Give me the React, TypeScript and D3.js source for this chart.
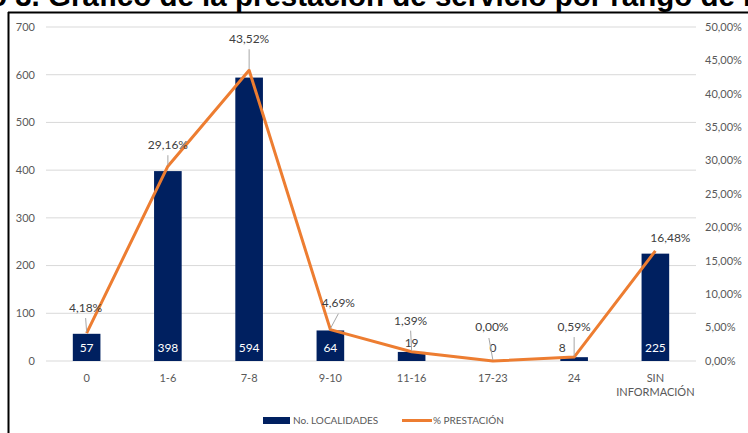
import { scaleBand, scaleLinear, line } from "d3";

const categories = ["0", "1-6", "7-8", "9-10", "11-16", "17-23", "24", "SIN INFORMACIÓN"];
const localidades = [57, 398, 594, 64, 19, 0, 8, 225];
const prestacion = [4.18, 29.16, 43.52, 4.69, 1.39, 0.0, 0.59, 16.48];
const leftTicks = [0, 100, 200, 300, 400, 500, 600, 700];
const rightTicks = [0, 5, 10, 15, 20, 25, 30, 35, 40, 45, 50];

// label placement tweaks (dx, dy from the point), like Excel's manual moves
const pctOffsets: [number, number][] = [
  [-1, -20], [0, -16], [0, -26], [8, -21], [-1, -26], [-1, -29], [0, -25], [15, -8],
];
const leaderFrom: ([number, number] | null)[] = [
  [-1, -15], [0, -11], [0, -21], [8, -16], [-1, -21], [-4, -23], [0, -20], null,
];

const fmtPct = (v: number) => v.toFixed(2).replace(".", ",") + "%";

const font = "Lato, 'Open Sans', sans-serif";

const App = () => {
  const width = 748;
  const height = 433;

  const x = scaleBand().domain(categories).range([46, 696]).padding(0);
  const yL = scaleLinear().domain([0, 700]).range([361, 27]);
  const yR = scaleLinear().domain([0, 50]).range([361, 27]);

  const barW = x.bandwidth() * 0.34;
  const cx = (c: string) => x(c)! + x.bandwidth() / 2;

  const pts = categories.map((c, i) => [cx(c), yR(prestacion[i])] as [number, number]);
  const path = line()(pts)!;

  return (
    <svg
      width={width}
      height={height}
      style={{ position: "absolute", left: 0, top: 0, background: "#fff" }}
      fontFamily={font}
    >
      <text
        x={-11}
        y={6}
        fontFamily="'Liberation Sans', Arial, sans-serif"
        fontWeight="bold"
        fontSize={29.5}
        fill="#000"
      >
        o 3. Gráfico de la prestación de servicio por rango de horas
      </text>
      <rect x={0} y={12} width={width} height={height} fill="#fff" />
      <line x1={8} x2={width} y1={12.5} y2={12.5} stroke="#000" strokeWidth={2} />
      <line x1={8.5} x2={8.5} y1={12} y2={height} stroke="#000" strokeWidth={2} />

      {leftTicks.map((t) => (
        <g key={`g-${t}`}>
          <line x1={46} x2={696} y1={yL(t)} y2={yL(t)} stroke="#D9D9D9" strokeWidth={1} />
          <text x={35} y={yL(t)} dy="0.35em" textAnchor="end" fontSize={11} fill="#595959">
            {t}
          </text>
        </g>
      ))}
      {rightTicks.map((t) => (
        <text key={`r-${t}`} x={705} y={yR(t)} dy="0.35em" fontSize={11} fill="#595959">
          {fmtPct(t)}
        </text>
      ))}

      {categories.map((c) => {
        const parts = c === "SIN INFORMACIÓN" ? ["SIN", "INFORMACIÓN"] : [c];
        return (
          <text key={`x-${c}`} x={cx(c)} y={382} textAnchor="middle" fontSize={11} fill="#595959">
            {parts.map((p, j) => (
              <tspan key={p} x={cx(c)} dy={j === 0 ? 0 : 14}>
                {p}
              </tspan>
            ))}
          </text>
        );
      })}

      {categories.map((c, i) => (
        <rect
          key={`bar-${c}`}
          x={cx(c) - barW / 2}
          y={yL(localidades[i])}
          width={barW}
          height={yL(0) - yL(localidades[i])}
          fill="#002060"
        />
      ))}

      {categories.map((c, i) => {
        const v = localidades[i];
        const inside = v >= 50;
        let lx = cx(c);
        let ly = 348;
        if (!inside) {
          if (v === 8) lx -= 12;
          if (v === 19) ly = 343;
        }
        return (
          <text
            key={`v-${c}`}
            x={lx}
            y={ly}
            dy="0.35em"
            textAnchor="middle"
            fontSize={12}
            fill={inside ? "#FFFFFF" : "#404040"}
          >
            {v}
          </text>
        );
      })}

      <path d={path} fill="none" stroke="#ED7D31" strokeWidth={3} strokeLinejoin="round" />

      {pts.map(([px, py], i) => {
        const lf = leaderFrom[i];
        return lf ? (
          <line
            key={`ld-${i}`}
            x1={px + lf[0]}
            y1={py + lf[1]}
            x2={px}
            y2={py - 1}
            stroke="#A6A6A6"
            strokeWidth={1}
          />
        ) : null;
      })}
      {pts.map(([px, py], i) => (
        <text
          key={`p-${i}`}
          x={px + pctOffsets[i][0]}
          y={py + pctOffsets[i][1]}
          dy="-0.1em"
          textAnchor="middle"
          fontSize={12}
          fill="#404040"
        >
          {fmtPct(prestacion[i])}
        </text>
      ))}

      <rect x={263} y={417} width={27} height={7} fill="#002060" />
      <text x={293} y={420.5} dy="0.35em" fontSize={10} fill="#595959">
        No. LOCALIDADES
      </text>
      <line x1={402} x2={432} y1={420.5} y2={420.5} stroke="#ED7D31" strokeWidth={3} />
      <text x={433} y={420.5} dy="0.35em" fontSize={10} fill="#595959">
        % PRESTACIÓN
      </text>
    </svg>
  );
};

export default App;
